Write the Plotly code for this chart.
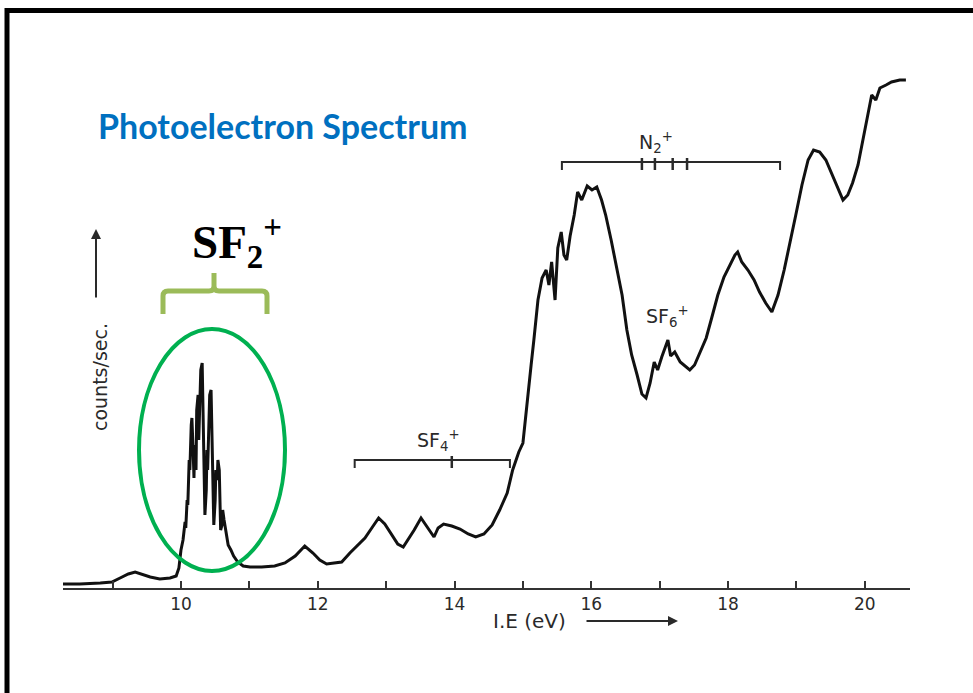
import plotly.graph_objects as go

# Photoelectron spectrum trace: ionisation energy (eV) vs. counts (arb. units)
energy_ev = [
    8.27, 8.52, 8.82, 8.99, 9.11, 9.23, 9.33, 9.43, 9.55, 9.69, 9.84, 9.93, 9.97,
    10.00, 10.03, 10.06, 10.07, 10.09, 10.10, 10.12, 10.13, 10.15, 10.16, 10.18,
    10.19, 10.20, 10.22, 10.23, 10.25, 10.26, 10.28, 10.29, 10.31, 10.32, 10.34,
    10.35, 10.37, 10.38, 10.39, 10.41, 10.42, 10.44, 10.45, 10.47, 10.48, 10.50,
    10.51, 10.53, 10.54, 10.56, 10.57, 10.58, 10.60, 10.61, 10.63, 10.64, 10.66,
    10.67, 10.69,
    10.73, 10.77, 10.83, 10.91, 11.01, 11.18, 11.37,
    11.52, 11.67, 11.81, 11.93, 12.03, 12.13, 12.25, 12.35, 12.47, 12.57, 12.69,
    12.79, 12.89, 12.98, 13.08, 13.17, 13.25, 13.32, 13.41, 13.51, 13.58, 13.64,
    13.70, 13.76, 13.84, 13.96, 14.08, 14.20, 14.31, 14.43, 14.55, 14.66, 14.77,
    14.85, 14.94, 15.00, 15.04, 15.07, 15.12, 15.16, 15.22, 15.28, 15.34, 15.38,
    15.42, 15.47, 15.51, 15.56, 15.60, 15.64, 15.69, 15.75, 15.80, 15.86, 15.94,
    16.01, 16.08, 16.15, 16.21, 16.29, 16.37, 16.45, 16.52, 16.59, 16.67, 16.74,
    16.80, 16.86, 16.92, 16.97, 17.03, 17.09, 17.12, 17.16, 17.22, 17.30, 17.37,
    17.44, 17.51, 17.59, 17.68, 17.76, 17.85, 17.94, 18.03, 18.10, 18.14, 18.20,
    18.29, 18.38, 18.46, 18.55, 18.64, 18.73, 18.82, 18.90, 18.99, 19.08, 19.17,
    19.25, 19.34, 19.43, 19.52, 19.61, 19.68, 19.75, 19.82, 19.90, 19.97, 20.04,
    20.10, 20.16, 20.22, 20.31, 20.39, 20.51, 20.60,
]
counts = [
    4, 4, 5, 6, 10, 14, 16, 14, 11, 9, 10, 12, 20,
    38, 48, 66, 60, 88, 83, 128, 118, 163, 170, 133,
    110, 143, 118, 178, 193, 148, 188, 218, 225, 188, 118,
    73, 98, 138, 118, 178, 193, 198, 158, 88, 63, 88,
    118, 108, 128, 118, 83, 58, 63, 78, 68, 63, 58,
    50, 43,
    38, 32, 26, 22, 21, 21, 22,
    25, 32, 42, 35, 28, 24, 25, 26, 35, 42, 50,
    60, 70, 64, 53, 44, 41, 48, 58, 70, 63, 56,
    51, 60, 64, 62, 59, 54, 51, 54, 63, 78, 95,
    118, 136, 145, 173, 193, 223, 248, 288, 310, 318, 303,
    326, 288, 340, 356, 333, 328, 352, 373, 396, 388, 402,
    398, 401, 388, 373, 348, 320, 293, 258, 233, 213, 194,
    190, 205, 226, 218, 231, 243, 248, 232, 236, 226, 222,
    218, 223, 236, 250, 270, 293, 311, 323, 333, 336, 326,
    318, 308, 296, 285, 276, 293, 318, 343, 373, 403, 428,
    438, 436, 428, 413, 398, 388, 393, 405, 423, 448, 473,
    493, 488, 500, 503, 506, 508, 508,
]

tick_values = [9, 10, 11, 12, 13, 14, 15, 16, 17, 18, 19, 20]
tick_labels = ["", "10", "", "12", "", "14", "", "16", "", "18", "", "20"]

# Band assignments: label, bracket start/end (eV), inner ticks (eV), bracket height, label position
bands = [
    dict(label="SF<sub>4</sub><sup>+</sup>", x0=12.54, x1=14.81, inner=[13.96],
         yb=128, lx=13.76, ly=148),
    dict(label="N<sub>2</sub><sup>+</sup>", x0=15.57, x1=18.76,
         inner=[16.74, 16.93, 17.19, 17.40], yb=426, lx=16.95, ly=446),
]
sf6_label = dict(label="SF<sub>6</sub><sup>+</sup>", lx=17.12, ly=272)

W, H = 973, 693
PL, PR, PT, PB = 63, 910, 68, 588  # plot-area edges in pixels


def px(x):
    return (x - PL) / (PR - PL)


def py(y):
    return (PB - y) / (PB - PT)


fig = go.Figure()
fig.add_trace(go.Scatter(
    x=energy_ev, y=counts, mode="lines",
    line=dict(color="#111111", width=3),
    hoverinfo="skip", showlegend=False,
))

shapes = []
annotations = []

ink = "#2a2a2a"
label_font = dict(family="DejaVu Sans", size=19, color=ink)


def note(**kw):
    kw.setdefault("showarrow", False)
    kw.setdefault("xanchor", "center")
    kw.setdefault("yanchor", "middle")
    annotations.append(kw)


for b in bands:
    x0, x1, yb = b["x0"], b["x1"], b["yb"]
    shapes.append(dict(type="path", xref="x", yref="y",
                       path=f"M {x0},{yb-8} L {x0},{yb} L {x1},{yb} L {x1},{yb-8}",
                       line=dict(color=ink, width=2)))
    for t in b["inner"]:
        shapes.append(dict(type="line", xref="x", yref="y", x0=t, x1=t,
                           y0=yb - 8, y1=yb + 4, line=dict(color=ink, width=2.5)))
    note(text=b["label"], x=b["lx"], y=b["ly"], xref="x", yref="y", font=label_font)

note(text=sf6_label["label"], x=sf6_label["lx"], y=sf6_label["ly"],
     xref="x", yref="y", font=label_font)

# Title
note(text="<b>Photoelectron Spectrum</b>", x=px(96), y=py(125), xanchor="left",
     xref="paper", yref="paper",
     font=dict(family="Lato", size=34, color="#0070C0"))

# SF2+ highlight label
note(text="<b>SF<sub>2</sub><sup>+</sup></b>", x=px(190), y=py(242), xanchor="left",
     xref="paper", yref="paper",
     font=dict(family="Liberation Serif", size=47, color="black"))

# Axis captions
note(text="counts/sec.", x=px(100), y=py(377), textangle=-90,
     xref="paper", yref="paper",
     font=dict(family="DejaVu Sans", size=19, color=ink))
note(text="", x=px(96), y=py(229), ax=0, ay=70, showarrow=True,
     xref="paper", yref="paper",
     arrowhead=2, arrowsize=1, arrowwidth=2, arrowcolor=ink)
note(text="I.E (eV)", x=px(529), y=py(621),
     xref="paper", yref="paper",
     font=dict(family="DejaVu Sans", size=20, color=ink))
note(text="", x=px(678), y=py(621), ax=-93, ay=0, showarrow=True,
     xref="paper", yref="paper",
     arrowhead=2, arrowsize=1, arrowwidth=2, arrowcolor=ink)

# Green bracket over the SF2+ band
bx0, bx1, bxm, by, byt, byb = 163, 267, 214, 291, 273, 314
bracket = (
    f"M {px(bx0)},{py(byb)} L {px(bx0)},{py(by+5)} Q {px(bx0)},{py(by)} {px(bx0+5)},{py(by)} "
    f"L {px(bxm-5)},{py(by)} Q {px(bxm)},{py(by)} {px(bxm)},{py(by-5)} L {px(bxm)},{py(byt)} "
    f"M {px(bxm)},{py(by-5)} Q {px(bxm)},{py(by)} {px(bxm+5)},{py(by)} "
    f"L {px(bx1-5)},{py(by)} Q {px(bx1)},{py(by)} {px(bx1)},{py(by+5)} L {px(bx1)},{py(byb)}"
)
shapes.append(dict(type="path", xref="paper", yref="paper", path=bracket,
                   line=dict(color="#9BBB59", width=5)))

# Ellipse around the SF2+ peaks
shapes.append(dict(type="circle", xref="paper", yref="paper",
                   x0=px(139), x1=px(285), y0=py(571), y1=py(329),
                   line=dict(color="#00B050", width=4)))

# Slide frame
shapes.append(dict(type="rect", xref="paper", yref="paper",
                   x0=px(7), x1=px(990), y0=py(710), y1=py(10.5),
                   line=dict(color="black", width=5), layer="above"))

fig.update_layout(
    width=W, height=H,
    margin=dict(l=PL, r=W - PR, t=PT, b=H - PB),
    paper_bgcolor="white", plot_bgcolor="white",
    shapes=shapes, annotations=annotations,
    xaxis=dict(range=[8.275, 20.66], showgrid=False, zeroline=False,
               showline=True, linecolor="#333333", linewidth=2,
               ticks="inside", ticklen=7, tickwidth=2, tickcolor="#333333",
               tickvals=tick_values, ticktext=tick_labels,
               tickfont=dict(family="DejaVu Sans", size=17, color=ink)),
    yaxis=dict(range=[0, 520], visible=False),
)

fig.write_html("out.html")
